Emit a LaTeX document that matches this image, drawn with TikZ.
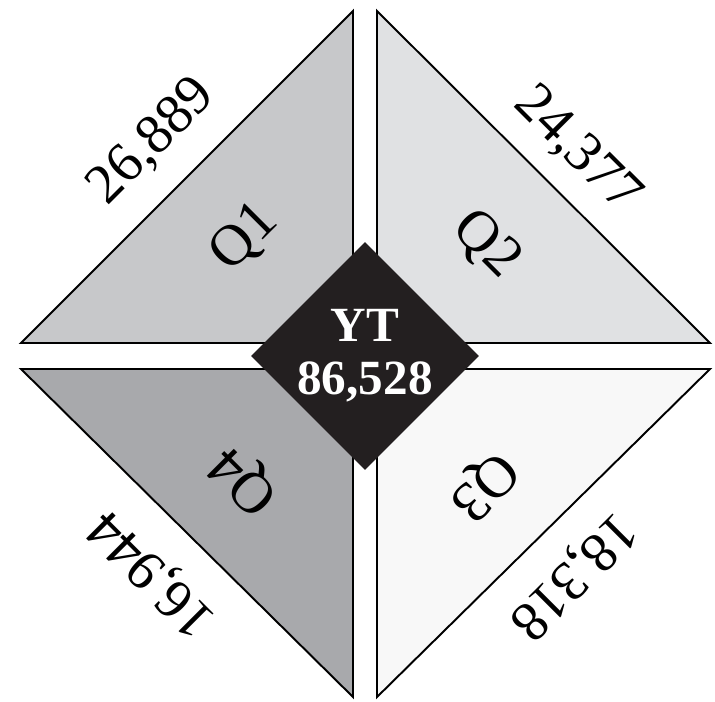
\documentclass[tikz,border=0pt]{standalone}
\usepackage{fontspec}
\setmainfont{Liberation Serif}
\usetikzlibrary{shapes.geometric, positioning, calc}
\definecolor{qone}{RGB}{199,200,202}
\definecolor{qtwo}{RGB}{224,225,227}
\definecolor{qthree}{RGB}{248,248,248}
\definecolor{qfour}{RGB}{168,169,172}
\definecolor{ytblack}{RGB}{35,31,32}

\begin{document}
\begin{tikzpicture}[x=0.02cm, y=0.02cm, tri/.style={draw, line width=1.1pt, line join=miter}, qlabel/.style={font=\fontsize{33}{35}\selectfont, inner sep=0pt}, total/.style={font=\fontsize{32}{34}\selectfont, inner sep=0pt}]
\useasboundingbox (0, 0) rectangle (715, 701);
\filldraw[tri, fill=qone] (353, 358) -- (353, 690) -- (21, 358) -- cycle;
\filldraw[tri, fill=qtwo] (377, 358) -- (377, 690) -- (710, 358) -- cycle;
\filldraw[tri, fill=qthree] (377, 332) -- (710, 332) -- (377, 4) -- cycle;
\filldraw[tri, fill=qfour] (353, 332) -- (21, 332) -- (353, 4) -- cycle;
\node[diamond, fill=ytblack, minimum width=4.54cm, minimum height=4.54cm, inner sep=0pt, font=\bfseries\fontsize{28}{30}\selectfont, text=white, align=center] (YT) at (365, 345) {YT\\86,528};
\node[qlabel, rotate=45] (Q1) at (245, 463) {Q1};
\node[qlabel, rotate=-45] (Q2) at (486, 456) {Q2};
\node[qlabel, rotate=-135] (Q3) at (483, 216) {Q3};
\node[qlabel, rotate=135] (Q4) at (245, 221) {Q4};
\node[total, rotate=45] (T1) at (152, 559) {26,889};
\node[total, rotate=-45] (T2) at (577, 551) {24,377};
\node[total, rotate=-135] (T3) at (572, 126) {18,318};
\node[total, rotate=135] (T4) at (153, 128) {16,944};
\end{tikzpicture}
\end{document}
